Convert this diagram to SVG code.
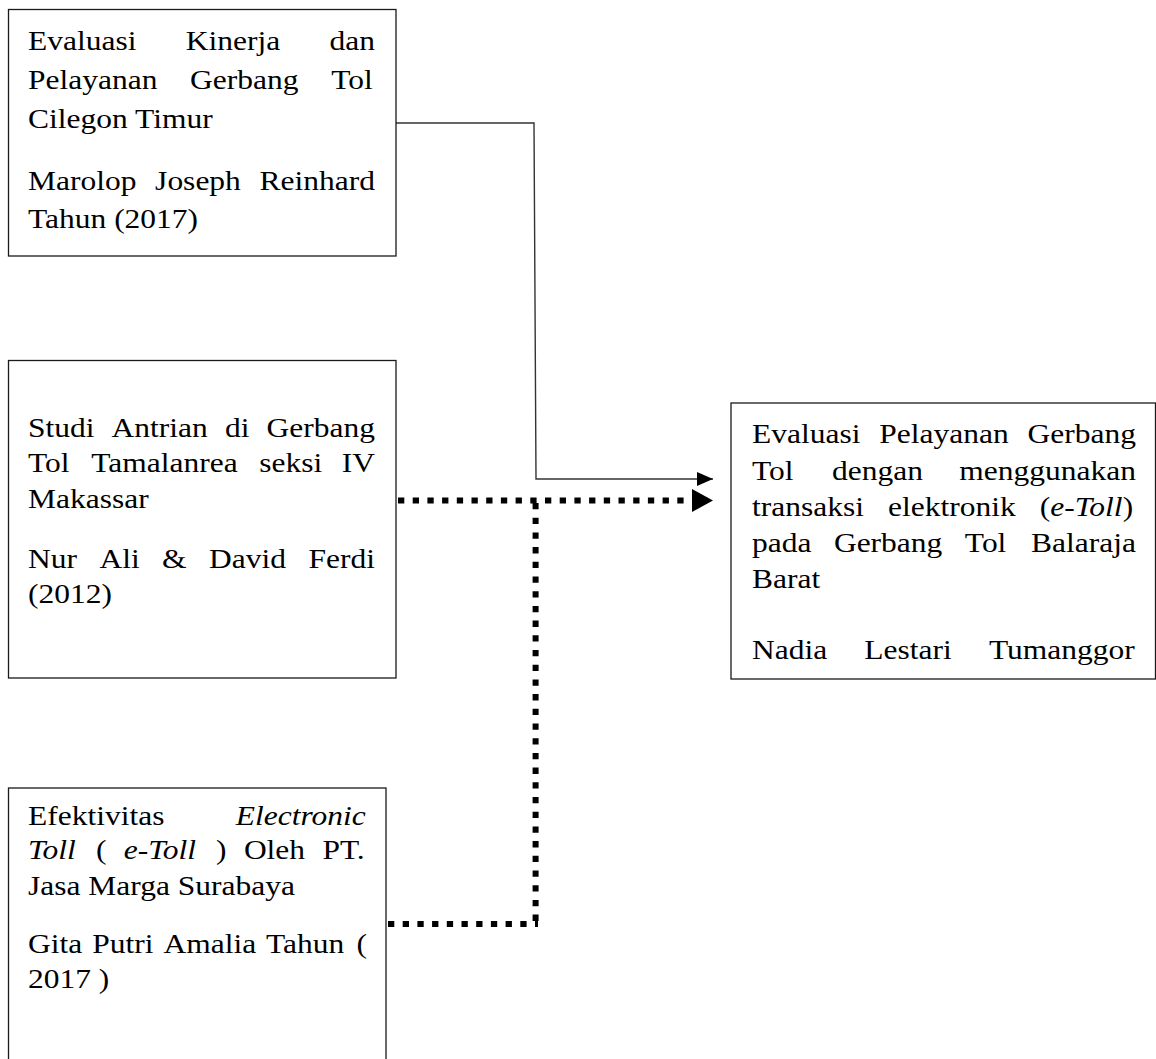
<svg xmlns="http://www.w3.org/2000/svg" width="1156" height="1059" viewBox="0 0 1156 1059">
  <style>
    .box { fill: #ffffff; stroke: #1a1a1a; stroke-width: 1.3; }
    .t { font-family: "Liberation Serif", "Times New Roman", serif; font-size: 28px; fill: #000000; }
    .i { font-style: italic; }
    .solid { fill: none; stroke: #333333; stroke-width: 1.4; }
    .dotted { fill: none; stroke: #000000; stroke-width: 6; stroke-dasharray: 6.3 8.4; }
  </style>
  <defs>
    <marker id="head-solid" markerUnits="userSpaceOnUse" markerWidth="16" markerHeight="14" refX="16" refY="7" orient="auto">
      <path d="M0,0 L16,7 L0,14 Z" fill="#000000"/>
    </marker>
    <marker id="head-bold" markerUnits="userSpaceOnUse" markerWidth="22" markerHeight="24" refX="0" refY="11.5" orient="auto">
      <path d="M0,0 L21,11.5 L0,23 Z" fill="#000000"/>
    </marker>
  </defs>

  <rect width="1156" height="1059" fill="#ffffff"/>

  <!-- connectors -->
  <g id="connectors">
    <path class="solid" d="M396,123 H534 L536,479 H713" marker-end="url(#head-solid)"/>
    <path class="dotted" d="M398,500.5 H692" marker-end="url(#head-bold)"/>
    <path class="dotted" d="M535.6,503 V927"/>
    <path class="dotted" d="M388,924 H538"/>
  </g>

  <!-- study: Cilegon Timur -->
  <g id="node-cilegon">
    <rect class="box" x="8.5" y="9.5" width="387.5" height="246.5"/>
    <g transform="translate(28 0) scale(1.125 1)">
      <text class="t" y="50.5"><tspan x="0">Evaluasi</tspan><tspan x="140.2">Kinerja</tspan><tspan x="268">dan</tspan></text>
      <text class="t" y="89.5"><tspan x="0">Pelayanan</tspan><tspan x="144.1">Gerbang</tspan><tspan x="269.6">Tol</tspan></text>
      <text class="t" x="0" y="128.5">Cilegon Timur</text>
      <text class="t" y="190"><tspan x="0">Marolop</tspan><tspan x="113">Joseph</tspan><tspan x="205.8">Reinhard</tspan></text>
      <text class="t" x="0" y="228">Tahun (2017)</text>
    </g>
  </g>

  <!-- study: Tamalanrea -->
  <g id="node-tamalanrea">
    <rect class="box" x="8.5" y="360.5" width="387.5" height="317.5"/>
    <g transform="translate(28 0) scale(1.125 1)">
      <text class="t" y="437"><tspan x="0">Studi</tspan><tspan x="74.3">Antrian</tspan><tspan x="175.1">di</tspan><tspan x="212">Gerbang</tspan></text>
      <text class="t" y="472"><tspan x="0">Tol</tspan><tspan x="56.2">Tamalanrea</tspan><tspan x="205.6">seksi</tspan><tspan x="278.9">IV</tspan></text>
      <text class="t" x="0" y="508">Makassar</text>
      <text class="t" y="568"><tspan x="0">Nur</tspan><tspan x="63.5">Ali</tspan><tspan x="119.2">&amp;</tspan><tspan x="161">David</tspan><tspan x="249.3">Ferdi</tspan></text>
      <text class="t" x="0" y="603">(2012)</text>
    </g>
  </g>

  <!-- study: e-Toll Surabaya -->
  <g id="node-surabaya">
    <rect class="box" x="8.5" y="788" width="377.5" height="290"/>
    <g transform="translate(28 0) scale(1.125 1)">
      <text class="t" y="825.5"><tspan x="0">Efektivitas</tspan><tspan class="i" x="184.7">Electronic</tspan></text>
      <text class="t" y="859"><tspan class="i" x="0">Toll</tspan><tspan x="60.4">(</tspan><tspan class="i" x="85.1">e-Toll</tspan><tspan x="167.2">)</tspan><tspan x="191.9">Oleh</tspan><tspan x="261.7">PT.</tspan></text>
      <text class="t" x="0" y="895">Jasa Marga Surabaya</text>
      <text class="t" y="953"><tspan x="0">Gita</tspan><tspan x="57.1">Putri</tspan><tspan x="120.4">Amalia</tspan><tspan x="211.6">Tahun</tspan><tspan x="292.1">(</tspan></text>
      <text class="t" x="0" y="988">2017 )</text>
    </g>
  </g>

  <!-- study: Balaraja Barat -->
  <g id="node-balaraja">
    <rect class="box" x="731" y="403" width="424.5" height="276"/>
    <g transform="translate(752 0) scale(1.125 1)">
      <text class="t" y="443"><tspan x="0">Evaluasi</tspan><tspan x="113.2">Pelayanan</tspan><tspan x="244.9">Gerbang</tspan></text>
      <text class="t" y="480"><tspan x="0">Tol</tspan><tspan x="71.2">dengan</tspan><tspan x="184.3">menggunakan</tspan></text>
      <text class="t" y="516"><tspan x="0">transaksi</tspan><tspan x="120.9">elektronik</tspan><tspan x="255.8">(</tspan><tspan class="i">e-Toll</tspan><tspan>)</tspan></text>
      <text class="t" y="552"><tspan x="0">pada</tspan><tspan x="72.8">Gerbang</tspan><tspan x="189.2">Tol</tspan><tspan x="248">Balaraja</tspan></text>
      <text class="t" x="0" y="588">Barat</text>
      <text class="t" y="659"><tspan x="0">Nadia</tspan><tspan x="99.9">Lestari</tspan><tspan x="210.6">Tumanggor</tspan></text>
    </g>
  </g>
</svg>
